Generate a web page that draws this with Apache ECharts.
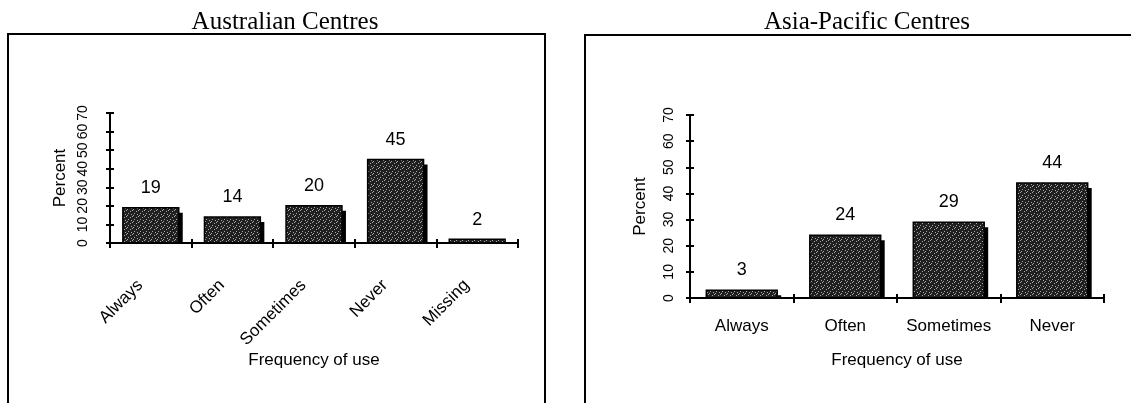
<!DOCTYPE html>
<html>
<head>
<meta charset="utf-8">
<script src="https://cdn.jsdelivr.net/npm/echarts@6/dist/echarts.min.js"></script>
<style>
html,body{margin:0;padding:0;background:#fff;}
#chart{width:1131px;height:403px;}
</style>
</head>
<body>
<div id="chart"></div>
<script>
var titleAU = 'Australian Centres';
var titleAP = 'Asia-Pacific Centres';
var categoriesAU = ['Always', 'Often', 'Sometimes', 'Never', 'Missing'];
var valuesAU = [19, 14, 20, 45, 2];
var categoriesAP = ['Always', 'Often', 'Sometimes', 'Never'];
var valuesAP = [3, 24, 29, 44];
var yTicks = [0, 10, 20, 30, 40, 50, 60, 70];
var xName = 'Frequency of use';
var yName = 'Percent';

var SANS = '"Liberation Sans", Arial, sans-serif';
var SERIF = '"Liberation Serif", "Times New Roman", serif';

// stipple texture for the bars (fixed dot layout)
var tex = document.createElement('canvas');
tex.width = 6; tex.height = 6;
var tctx = tex.getContext('2d');
tctx.fillStyle = '#202020';
tctx.fillRect(0, 0, 6, 6);
tctx.fillStyle = '#a8a8a8';
[[0, 0], [4, 1], [2, 3], [5, 4], [1, 5]].forEach(function (p) { tctx.fillRect(p[0], p[1], 1, 1); });
var stipple = {image: tex, repeat: 'repeat'};

function renderBar(params, api) {
  var cat = api.value(0), v = api.value(1);
  var top = api.coord([cat, v]);
  var base = api.coord([cat, 0]);
  var band = api.size([1, 0])[0];
  var w = band * 0.685;
  var x0 = top[0] - w / 2;
  var h = base[1] - top[1];
  var sh = Math.max(0, h - 5);
  return {
    type: 'group',
    children: [
      {type: 'rect', shape: {x: x0 + 4, y: base[1] - sh, width: w, height: sh}, style: {fill: '#000'}},
      {type: 'rect', shape: {x: x0, y: top[1], width: w, height: h},
       style: {fill: stipple, stroke: '#000', lineWidth: 1.5},
       textContent: {style: {text: String(v), font: '18px ' + SANS, fill: '#000'}},
       textConfig: {position: 'top', distance: 10}}
    ]
  };
}

function catAxis(grid, cats, main, rotate, margin, nameGap, pad) {
  return {
    type: 'category', gridIndex: grid, data: cats, position: 'bottom', z: 10,
    boundaryGap: true,
    axisLine: {show: true, onZero: false, lineStyle: {color: '#000', width: 2}},
    axisTick: {show: true, inside: !main, length: main ? 5 : 4, alignWithLabel: false, interval: 0,
               lineStyle: {color: '#000', width: 2}},
    axisLabel: {show: main, interval: 0, rotate: rotate, margin: margin, color: '#000',
                fontFamily: SANS, fontSize: 17, padding: pad || 0},
    splitLine: {show: false},
    name: main ? xName : '', nameLocation: 'middle', nameGap: nameGap,
    nameTextStyle: {color: '#000', fontFamily: SANS, fontSize: 17}
  };
}

function valAxis(grid, main, margin) {
  return {
    type: 'value', gridIndex: grid, position: 'left', z: 10,
    min: yTicks[0], max: yTicks[yTicks.length - 1],
    interval: yTicks[1] - yTicks[0],
    axisLine: {show: true, onZero: false, lineStyle: {color: '#000', width: 2}},
    axisTick: {show: true, inside: !main, length: 4, lineStyle: {color: '#000', width: 2}},
    axisLabel: {show: main, rotate: 90, margin: margin, color: '#000', fontFamily: SANS, fontSize: 14},
    splitLine: {show: false},
    name: main ? yName : '', nameLocation: 'middle', nameGap: 41, nameRotate: 90,
    nameTextStyle: {color: '#000', fontFamily: SANS, fontSize: 17}
  };
}

var chart = echarts.init(document.getElementById('chart'));
chart.setOption({
  animation: false,
  backgroundColor: '#fff',
  graphic: [
    {type: 'rect', shape: {x: 8, y: 34, width: 537, height: 420}, style: {fill: 'none', stroke: '#000', lineWidth: 2}, z: -1},
    {type: 'rect', shape: {x: 585, y: 35, width: 600, height: 420}, style: {fill: 'none', stroke: '#000', lineWidth: 2}, z: -1},
    {type: 'text', x: 285, y: 22, style: {text: titleAU, font: '25px ' + SERIF, fill: '#000', textAlign: 'center', textVerticalAlign: 'middle'}},
    {type: 'text', x: 867, y: 22, style: {text: titleAP, font: '25px ' + SERIF, fill: '#000', textAlign: 'center', textVerticalAlign: 'middle'}}
  ],
  grid: [
    {left: 110, top: 113, width: 408, height: 130},
    {left: 690, top: 115, width: 414, height: 183}
  ],
  xAxis: [
    catAxis(0, categoriesAU, true, 45, 29, 108, [0, 15, 0, 0]),
    catAxis(0, categoriesAU, false, 0, 0, 0),
    catAxis(1, categoriesAP, true, 0, 20, 54),
    catAxis(1, categoriesAP, false, 0, 0, 0)
  ],
  yAxis: [
    valAxis(0, true, 20),
    valAxis(0, false, 0),
    valAxis(1, true, 14),
    valAxis(1, false, 0)
  ],
  series: [
    {type: 'custom', name: titleAU, xAxisIndex: 0, yAxisIndex: 0, renderItem: renderBar,
     encode: {x: 0, y: 1}, data: categoriesAU.map(function (c, i) { return [i, valuesAU[i]]; })},
    {type: 'custom', name: titleAP, xAxisIndex: 2, yAxisIndex: 2, renderItem: renderBar,
     encode: {x: 0, y: 1}, data: categoriesAP.map(function (c, i) { return [i, valuesAP[i]]; })}
  ]
});
</script>
</body>
</html>
